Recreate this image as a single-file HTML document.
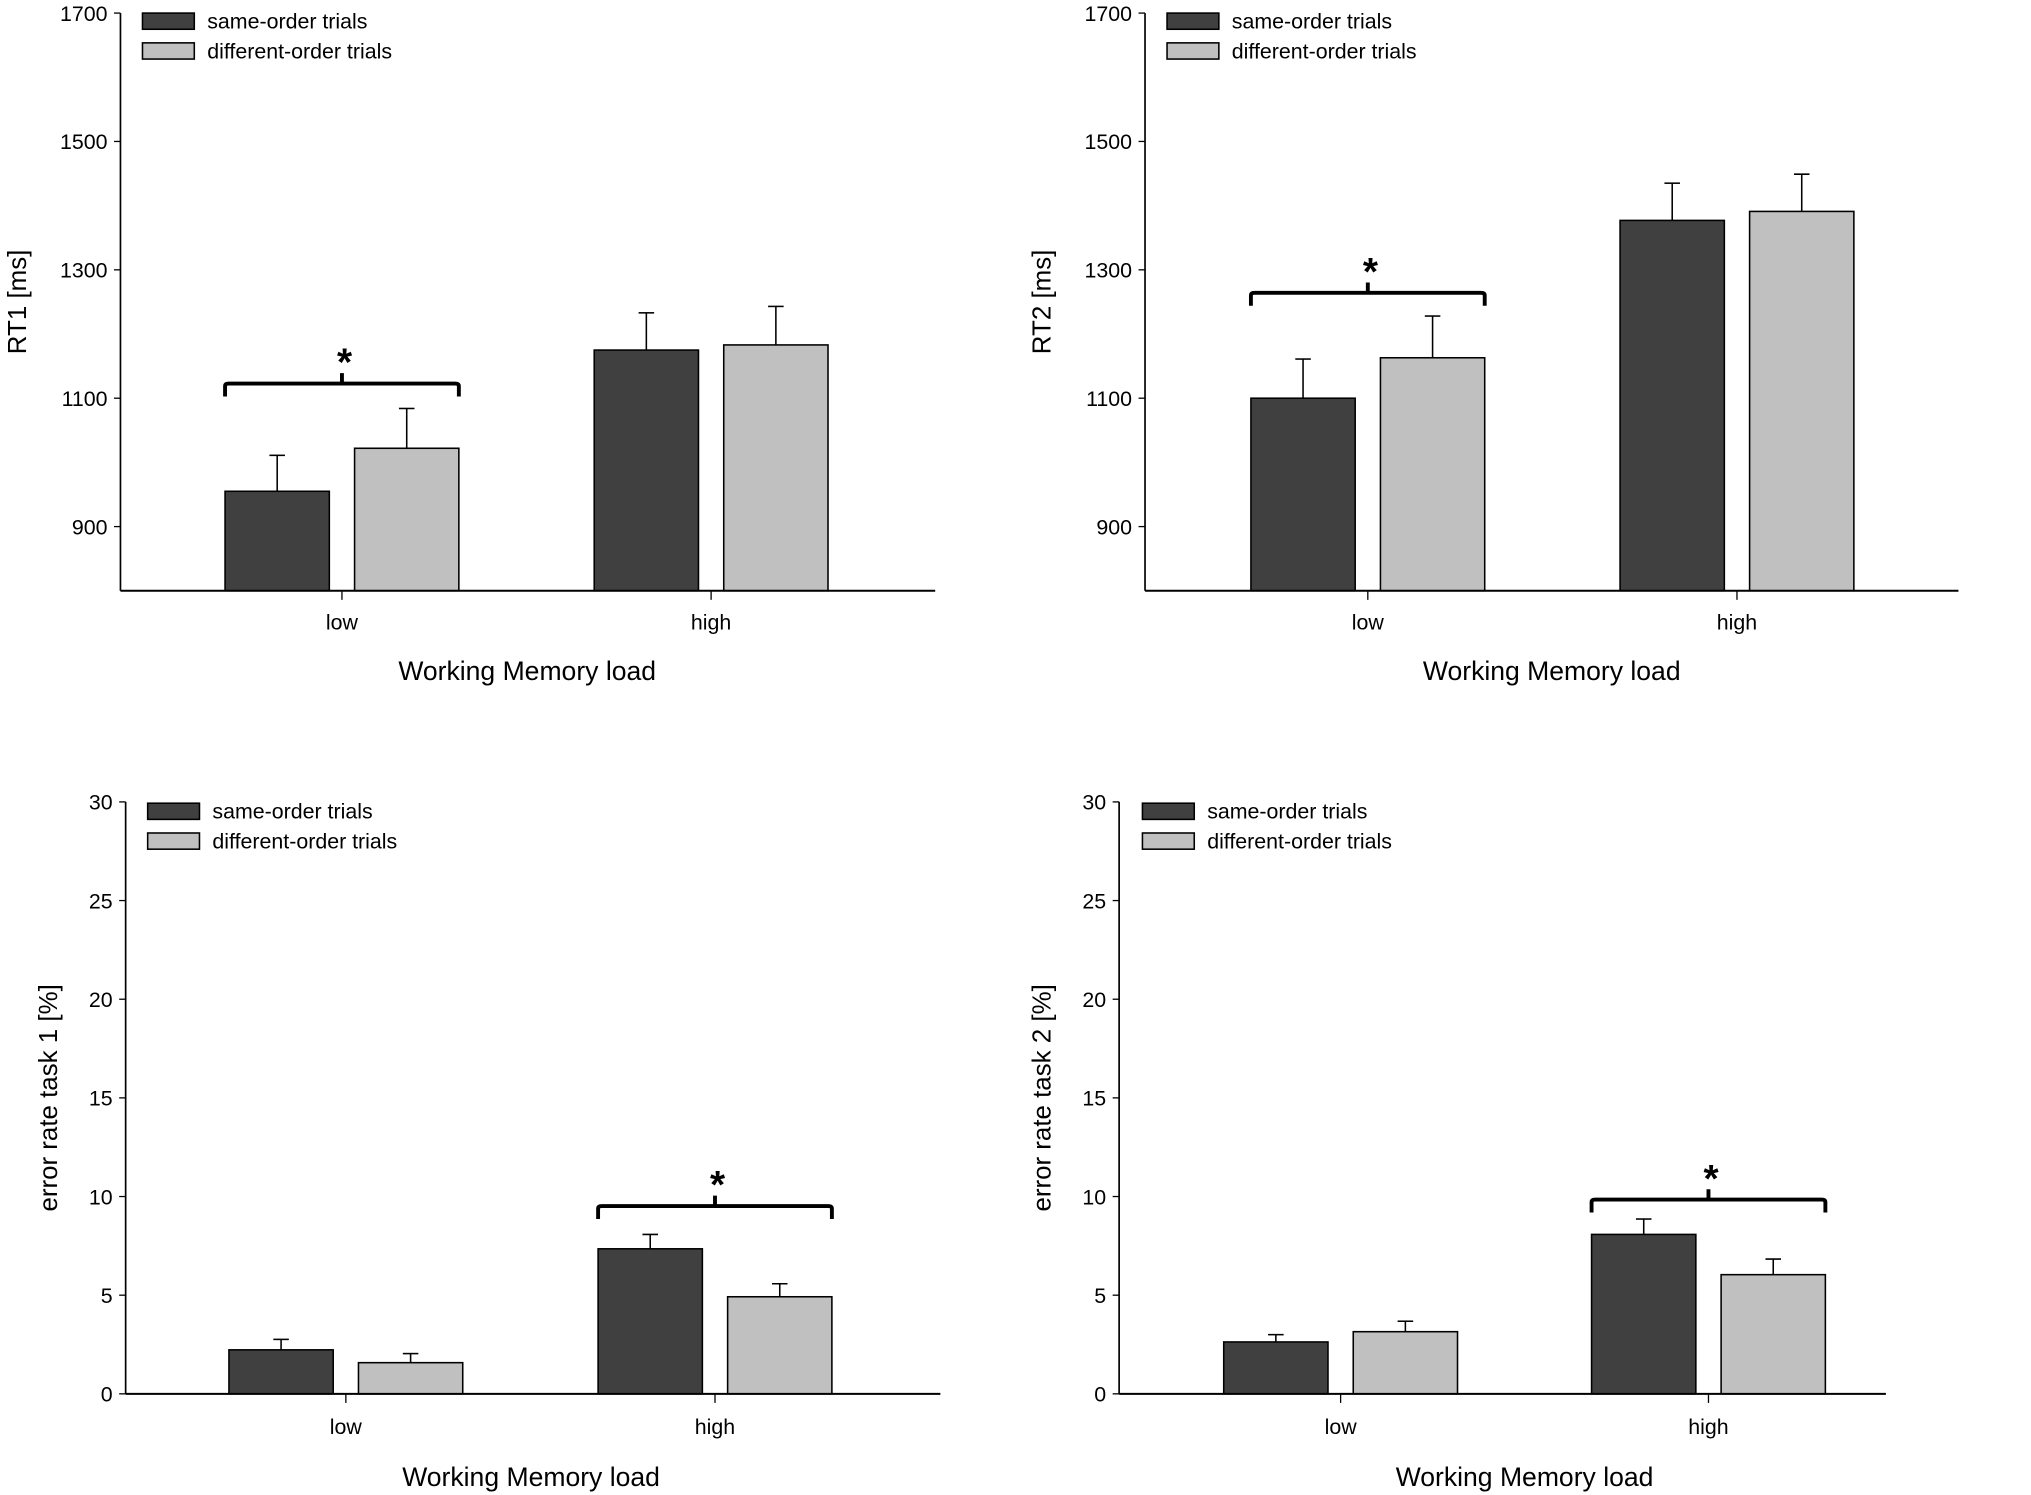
<!DOCTYPE html>
<html><head><meta charset="utf-8"><style>
html,body{margin:0;padding:0;background:#fff;}
svg{display:block;font-family:"Liberation Sans",Arial,sans-serif;}
</style></head><body>
<svg id="fig" width="2031" height="1495" viewBox="0 0 1568 1154" xmlns="http://www.w3.org/2000/svg"></svg>
<script>
const categories = ["low","high"];
const seriesNames = ["same-order trials","different-order trials"];
const rt1Same = [955,1175], rt1SameErr = [56,58];
const rt1Diff = [1022,1183], rt1DiffErr = [62,60];
const rt2Same = [1100,1377], rt2SameErr = [61,58];
const rt2Diff = [1163,1391], rt2DiffErr = [65,58];
const er1Same = [2.23,7.35], er1SameErr = [0.53,0.73];
const er1Diff = [1.58,4.92], er1DiffErr = [0.46,0.66];
const er2Same = [2.63,8.08], er2SameErr = [0.37,0.78];
const er2Diff = [3.15,6.04], er2DiffErr = [0.53,0.79];
const rtTicks = [900,1100,1300,1500,1700];
const erTicks = [0,5,10,15,20,25,30];

const NS="http://www.w3.org/2000/svg";
const svg=document.getElementById('fig');
function mk(tag,attrs,parent,text){const e=document.createElementNS(NS,tag);for(const k in attrs)e.setAttribute(k,attrs[k]);if(text!==undefined)e.textContent=text;parent.appendChild(e);return e;}

const panels=[
 {id:'rt1',x0:93,x1:722,xlabX:407,centers:[264,549],yTop:10,yBot:456,vMin:800,vMax:1700,ticks:rtTicks,ylab:'RT1 [ms]',ylx:20,same:rt1Same,se:rt1SameErr,diff:rt1Diff,de:rt1DiffErr,sig:0,brY:296,legY:10,legX:110,tickLabY:486,xlabY:525},
 {id:'rt2',x0:884,x1:1512,xlabX:1198,centers:[1056,1341],yTop:10,yBot:456,vMin:800,vMax:1700,ticks:rtTicks,ylab:'RT2 [ms]',ylx:811,same:rt2Same,se:rt2SameErr,diff:rt2Diff,de:rt2DiffErr,sig:0,brY:226,legY:10,legX:901,tickLabY:486,xlabY:525},
 {id:'er1',x0:97,x1:726,xlabX:410,centers:[267,552],yTop:619,yBot:1076,vMin:0,vMax:30,ticks:erTicks,ylab:'error rate task 1 [%]',ylx:44,same:er1Same,se:er1SameErr,diff:er1Diff,de:er1DiffErr,sig:1,brY:931,legY:620,legX:114,tickLabY:1107,xlabY:1147},
 {id:'er2',x0:864,x1:1456,xlabX:1177,centers:[1035,1319],yTop:619,yBot:1076,vMin:0,vMax:30,ticks:erTicks,ylab:'error rate task 2 [%]',ylx:811,same:er2Same,se:er2SameErr,diff:er2Diff,de:er2DiffErr,sig:1,brY:926,legY:620,legX:882,tickLabY:1107,xlabY:1147}
];

panels.forEach(p=>{
 const g=mk('g',{},svg);
 
 
 const y=v=>p.yBot-(v-p.vMin)/(p.vMax-p.vMin)*(p.yBot-p.yTop);
 const cx=i=>p.centers[i];
 const ya=mk('line',{x1:p.x0,y1:p.yTop,x2:p.x0,y2:p.yBot,stroke:'#000','stroke-width':1.3},g);
 
 p.ticks.forEach(t=>{
  mk('line',{x1:p.x0-5,y1:y(t),x2:p.x0,y2:y(t),stroke:'#000','stroke-width':1},g);
  const tl=mk('text',{x:p.x0-10,y:y(t)+6,'text-anchor':'end','font-size':16.5},g,String(t));
  
 });
 const yl=mk('text',{x:0,y:0,'text-anchor':'middle','font-size':20,transform:`translate(${p.ylx},${(p.yTop+p.yBot)/2}) rotate(-90)`},g,p.ylab);
 
 const bw=80.5, gap=19.5;
 categories.forEach((c,i)=>{
  const c0=cx(i);
  [[p.same,p.se,'#404040','same'],[p.diff,p.de,'#c0c0c0','diff']].forEach((s,j)=>{
   const bx=j===0?c0-gap/2-bw:c0+gap/2;
   const top=y(s[0][i]);
   const eb=y(s[0][i]+s[1][i]);
   const mid=bx+bw/2;
   const el=mk('line',{x1:mid,y1:top,x2:mid,y2:eb,stroke:'#000','stroke-width':1.2},g);
   
   mk('line',{x1:mid-6,y1:eb,x2:mid+6,y2:eb,stroke:'#000','stroke-width':1.2},g);
   const r=mk('rect',{x:bx,y:top,width:bw,height:p.yBot-top,fill:s[2],stroke:'#000','stroke-width':1.2},g);
   
  });
  mk('line',{x1:c0,y1:p.yBot,x2:c0,y2:p.yBot+7,stroke:'#000','stroke-width':1},g);
  const xl=mk('text',{x:c0,y:p.tickLabY,'text-anchor':'middle','font-size':16.5},g,c);
  
 });
 const xa=mk('line',{x1:p.x0,y1:p.yBot,x2:p.x1,y2:p.yBot,stroke:'#000','stroke-width':1.5},g);
 
 const xt=mk('text',{x:p.xlabX,y:p.xlabY,'text-anchor':'middle','font-size':20.5},g,'Working Memory load');
 
 const c0=cx(p.sig);const bl=c0-gap/2-bw, br=c0+gap/2+bw;
 const b=mk('path',{d:`M${bl},${p.brY+10} L${bl},${p.brY+2} Q${bl},${p.brY} ${bl+3},${p.brY} L${br-3},${p.brY} Q${br},${p.brY} ${br},${p.brY+2} L${br},${p.brY+10} M${c0},${p.brY} L${c0},${p.brY-8}`,fill:'none',stroke:'#000','stroke-width':3},g);
 
 const st=mk('text',{x:c0+2,y:p.brY-6,'text-anchor':'middle','font-size':30,'font-weight':'bold'},g,'*');
 
 seriesNames.forEach((n,j)=>{
  const ly=p.legY+j*23;
  const lr=mk('rect',{x:p.legX,y:ly,width:40,height:12.5,fill:j===0?'#404040':'#c0c0c0',stroke:'#000','stroke-width':1.2},g);
  
  const lt=mk('text',{x:p.legX+50,y:ly+12,'font-size':16.5},g,n);
  
 });
});
</script>
</body></html>
